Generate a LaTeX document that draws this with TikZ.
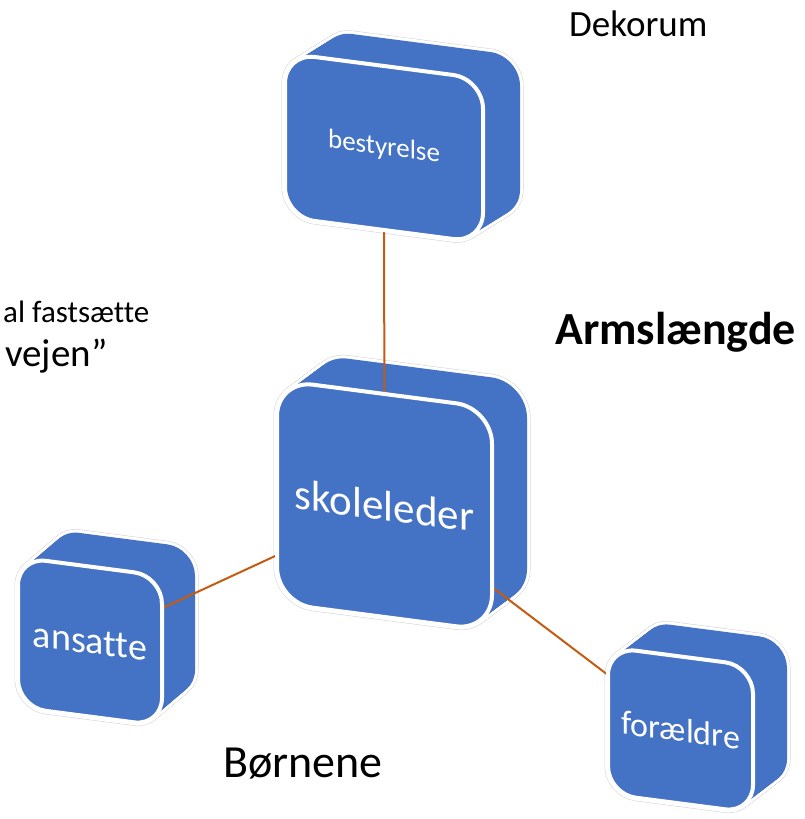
\documentclass[tikz,border=0pt]{standalone}
\usepackage{fontspec}
\setmainfont{Carlito}[Ligatures=NoCommon]
\usepackage{tikz}

\definecolor{blockblue}{RGB}{68,114,196}
\definecolor{linkbrown}{RGB}{197,90,17}
\pgfdeclarelayer{back}
\pgfdeclarelayer{mid}
\pgfsetlayers{back,mid,main}
\tikzset{
    face/.style={draw=white, line width=4pt, fill=blockblue, text=white, inner sep=0pt, transform shape},
    link/.style={draw=linkbrown, line width=2pt},
    txt/.style={anchor=base west, inner sep=0pt}
}
% name, center, width, height, radius, dx, dy, font size, text
\newcommand{\block}[9]{
    \begin{pgfonlayer}{back}
        \foreach \i in {0,...,20}{\draw[shift={#2}, shift={(\i*#6/20,\i*#7/20)}, yslant=-0.13, rounded corners=#5, gray!35, line width=7pt] (-#3/2,-#4/2) rectangle (#3/2,#4/2);}
        \foreach \i in {0,...,20}{\draw[shift={#2}, shift={(\i*#6/20,\i*#7/20)}, yslant=-0.13, rounded corners=#5, white, line width=6pt] (-#3/2,-#4/2) rectangle (#3/2,#4/2);}
        \foreach \i in {0,...,20}{\fill[shift={#2}, shift={(\i*#6/20,\i*#7/20)}, yslant=-0.13, rounded corners=#5, blockblue] (-#3/2,-#4/2) rectangle (#3/2,#4/2);}
    \end{pgfonlayer}
    \begin{scope}[shift={#2}, yslant=-0.13]
        \node[face, minimum width=#3pt, minimum height=#4pt, rounded corners=#5, font=\fontsize{#8}{#8}\selectfont] (#1) at (0,0) {#9};
    \end{scope}
}

\begin{document}
\begin{tikzpicture}[x=1pt, y=1pt]
    \useasboundingbox (0,0) rectangle (804,819);
    \block{best}{(384,671)}{198}{164}{30pt}{37}{23}{27}{bestyrelse}
    \block{skole}{(384.5,313.5)}{215}{223}{36pt}{35}{26}{43}{skoleleder}
    \block{ansat}{(90,177.4)}{144}{150}{28pt}{33}{28}{38}{ansatte}
    \block{foraeld}{(680.5,89)}{145}{147}{28pt}{34}{26}{34}{forældre}
    \begin{pgfonlayer}{mid}
        \draw[link] (best.center) -- (skole.center);
        \draw[link] (skole.center) -- (ansat.center);
        \draw[link] (skole.center) -- (foraeld.center);
    \end{pgfonlayer}
    \node[txt, font=\fontsize{37}{37}\selectfont] (dekorum) at (569,782) {Dekorum};
    \node[txt, font=\bfseries\fontsize{46}{46}\selectfont] (arm) at (555,474) {Armslængde};
    \node[txt, font=\fontsize{31}{31}\selectfont] (fast) at (3,496) {al fastsætte};
    \node[txt, font=\fontsize{39}{39}\selectfont] (vejen) at (5,452) {vejen”};
    \node[txt, font=\fontsize{46}{46}\selectfont] (born) at (223,41) {Børnene};
\end{tikzpicture}
\end{document}
